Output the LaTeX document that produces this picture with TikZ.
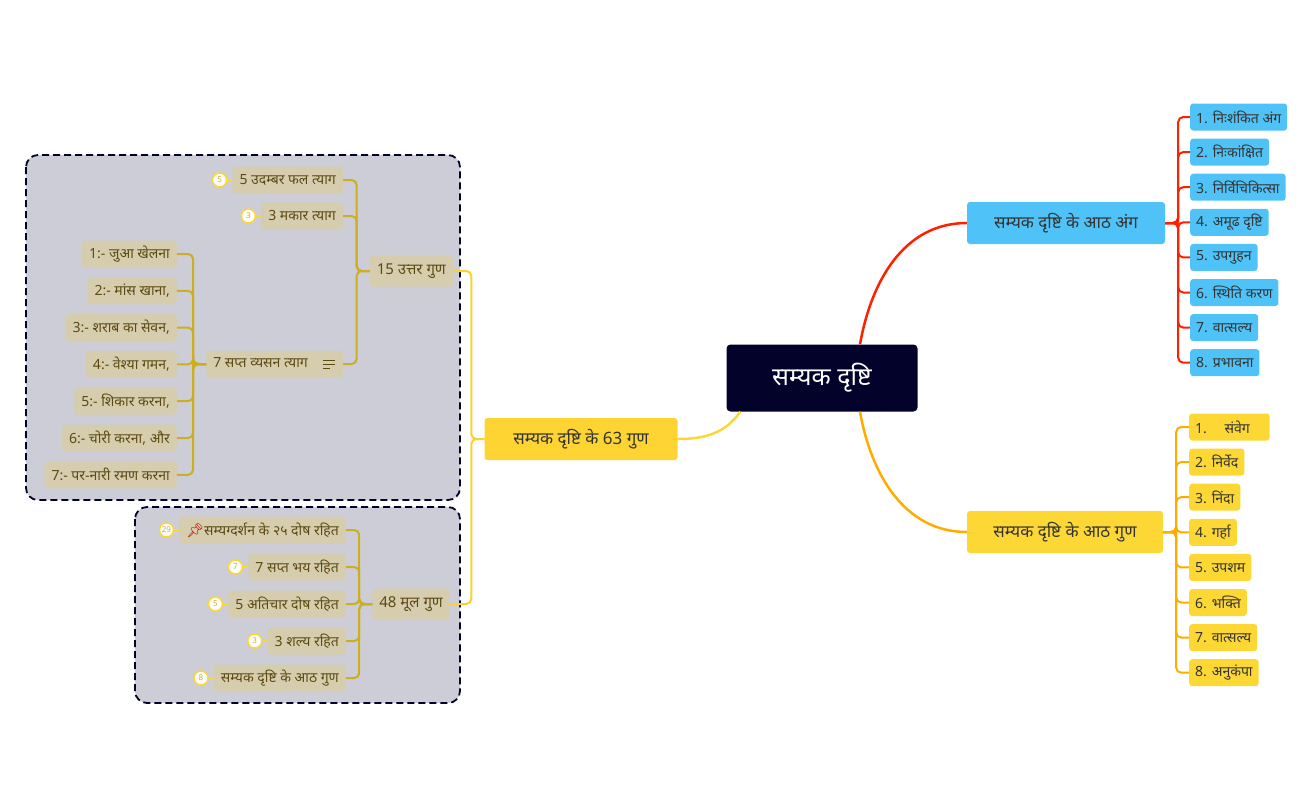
\documentclass[tikz,border=0pt]{standalone}
\usepackage{fontspec}
\setmainfont[Script=Devanagari]{Noto Sans}
\newfontfamily\emojifont{Noto Emoji}
\usetikzlibrary{positioning,calc}

\definecolor{navy}{HTML}{02022A}
\definecolor{skyblue}{HTML}{4FC3F7}
\definecolor{sun}{HTML}{FDD835}
\definecolor{tan}{HTML}{D5CDAE}
\definecolor{olive}{HTML}{5C4A12}
\definecolor{gold}{HTML}{CDAE1E}
\definecolor{panel}{HTML}{CCCDD6}

\tikzset{
  leaf/.style={fill=tan, text=olive, rounded corners=3pt, font=\fontsize{14}{16}\selectfont,
    minimum height=27pt, inner xsep=7pt},
  mid/.style={leaf, font=\fontsize{15}{17}\selectfont, minimum height=31pt},
  anga/.style={fill=skyblue, text=black!80, rounded corners=3pt, font=\fontsize{14}{16}\selectfont,
    minimum height=27pt, inner xsep=6pt, anchor=west},
  guna/.style={anga, fill=sun},
  badge/.style={circle, draw=sun, fill=white, line width=1.5pt, inner sep=0pt, minimum size=14pt,
    text=sun!80!black, font=\bfseries\fontsize{8}{9}\selectfont},
  conn/.style={draw=gold, line width=2pt, rounded corners=5pt},
  grp/.style={draw=navy, fill=panel, dash pattern=on 7pt off 4pt, line width=1.8pt, rounded corners=12pt}
}

\begin{document}
\begin{tikzpicture}[x=1pt,y=-1pt]
  \useasboundingbox (0,0) rectangle (1304,807);
  % panels
  \draw[grp] (26,155) rectangle (460,500);
  \draw[grp] (135,507) rectangle (460,703);

  % centre and main branches
  \node[fill=navy, text=white, rounded corners=4pt, minimum width=191pt, minimum height=67pt,
    font=\fontsize{25}{29}\selectfont] (root) at (822,378) {सम्यक दृष्टि};
  \node[anga, anchor=center, minimum width=198pt, minimum height=42pt, font=\fontsize{17}{19}\selectfont]
    (ang) at (1066,223) {सम्यक दृष्टि के आठ अंग};
  \node[guna, anchor=center, minimum width=196pt, minimum height=42pt, font=\fontsize{17}{19}\selectfont]
    (aathguna) at (1065,532) {सम्यक दृष्टि के आठ गुण};
  \node[guna, anchor=center, fill=sun!95!orange, minimum width=193pt, minimum height=42pt,
    font=\fontsize{17}{19}\selectfont] (gun63) at (581,439) {सम्यक दृष्टि के 63 गुण};

  \draw[red!75!orange, line width=2.5pt] ($(root.north)+(38,0)$) to[out=80,in=180] (ang.west);
  \draw[orange!65!yellow, line width=2.5pt] ($(root.south)+(38,0)$) to[out=-80,in=180] (aathguna.west);
  \draw[sun, line width=2.5pt] ($(root.south west)+(14,0)$) to[out=235,in=0] (gun63.east);

  % eight angas
  \foreach \t [count=\i] in {1. निःशंकित अंग, 2. निःकांक्षित, 3. निर्विचिकित्सा, 4. अमूढ दृष्टि,
      5. उपगुहन, 6. स्थिति करण, 7. वात्सल्य, 8. प्रभावना}{
    \node[anga] (a\i) at (1190,{117+35.1*(\i-1)}) {\t};
    \draw[red!75!orange, line width=2pt, rounded corners=5pt] (ang.east) -- ++(13,0) |- (a\i.west);
  }
  % eight gunas
  \foreach \t [count=\i] in {1.\quad\ संवेग\quad\ , 2. निर्वेद, 3. निंदा, 4. गर्हा,
      5. उपशम, 6. भक्ति, 7. वात्सल्य, 8. अनुकंपा}{
    \node[guna] (g\i) at (1189,{427+35.1*(\i-1)}) {\t};
    \draw[orange!65!yellow, line width=2pt, rounded corners=5pt] (aathguna.east) -- ++(13,0) |- (g\i.west);
  }

  % 15 uttar guna
  \node[mid, anchor=east] (uttar) at (453,271) {15 उत्तर गुण};
  \node[leaf, anchor=east] (udambar) at (343,180) {5 उदम्बर फल त्याग};
  \node[leaf, anchor=east] (makar) at (343,216) {3 मकार त्याग};
  \node[leaf, anchor=east] (vyasan) at (343,364) {7 सप्त व्यसन त्याग\hspace*{28pt}\strut};
  \foreach \dy/\w in {-4/12, 0/12, 4/7}
    \draw[olive, line width=1pt] ($(vyasan.east)+(-20,\dy)$) -- ++(\w,0);
  \foreach \n in {udambar, makar, vyasan}
    \draw[conn] (uttar.west) -- ++(-13,0) |- (\n.east);
  \foreach \t [count=\i] in {{1:- जुआ खेलना}, {2:- मांस खाना,}, {3:- शराब का सेवन,}, {4:- वेश्या गमन,},
      {5:- शिकार करना,}, {6:- चोरी करना, और}, {7:- पर-नारी रमण करना}}{
    \node[leaf, anchor=east] (v\i) at (177,{254+36.8*(\i-1)}) {\t};
    \draw[conn] (vyasan.west) -- ++(-13,0) |- (v\i.east);
  }

  % 48 mool guna
  \node[mid, anchor=east] (mool) at (450,604) {48 मूल गुण};
  \node[leaf, anchor=east] (dosh) at (346,530) {{\emojifont\color{red!80!black}📌}सम्यग्दर्शन के २५ दोष रहित};
  \node[leaf, anchor=east] (bhay) at (346,567) {7 सप्त भय रहित};
  \node[leaf, anchor=east] (atichar) at (346,604) {5 अतिचार दोष रहित};
  \node[leaf, anchor=east] (shalya) at (346,641) {3 शल्य रहित};
  \node[leaf, anchor=east] (aath) at (346,678) {सम्यक दृष्टि के आठ गुण};
  \foreach \n in {dosh, bhay, atichar, shalya, aath}
    \draw[conn] (mool.west) -- ++(-13,0) |- (\n.east);

  \draw[conn, draw=sun!90!orange] (gun63.west) -- ++(-13,0) |- (uttar.east);
  \draw[conn, draw=sun!90!orange] (gun63.west) -- ++(-13,0) |- (mool.east);

  % count badges
  \foreach \n/\k in {udambar/5, makar/3, dosh/29, bhay/7, atichar/5, shalya/3, aath/8}{
    \node[badge, left=5pt of \n.west] (b\n) {\k};
    \draw[sun, line width=1.5pt] (b\n) -- (\n.west);
  }
\end{tikzpicture}
\end{document}
